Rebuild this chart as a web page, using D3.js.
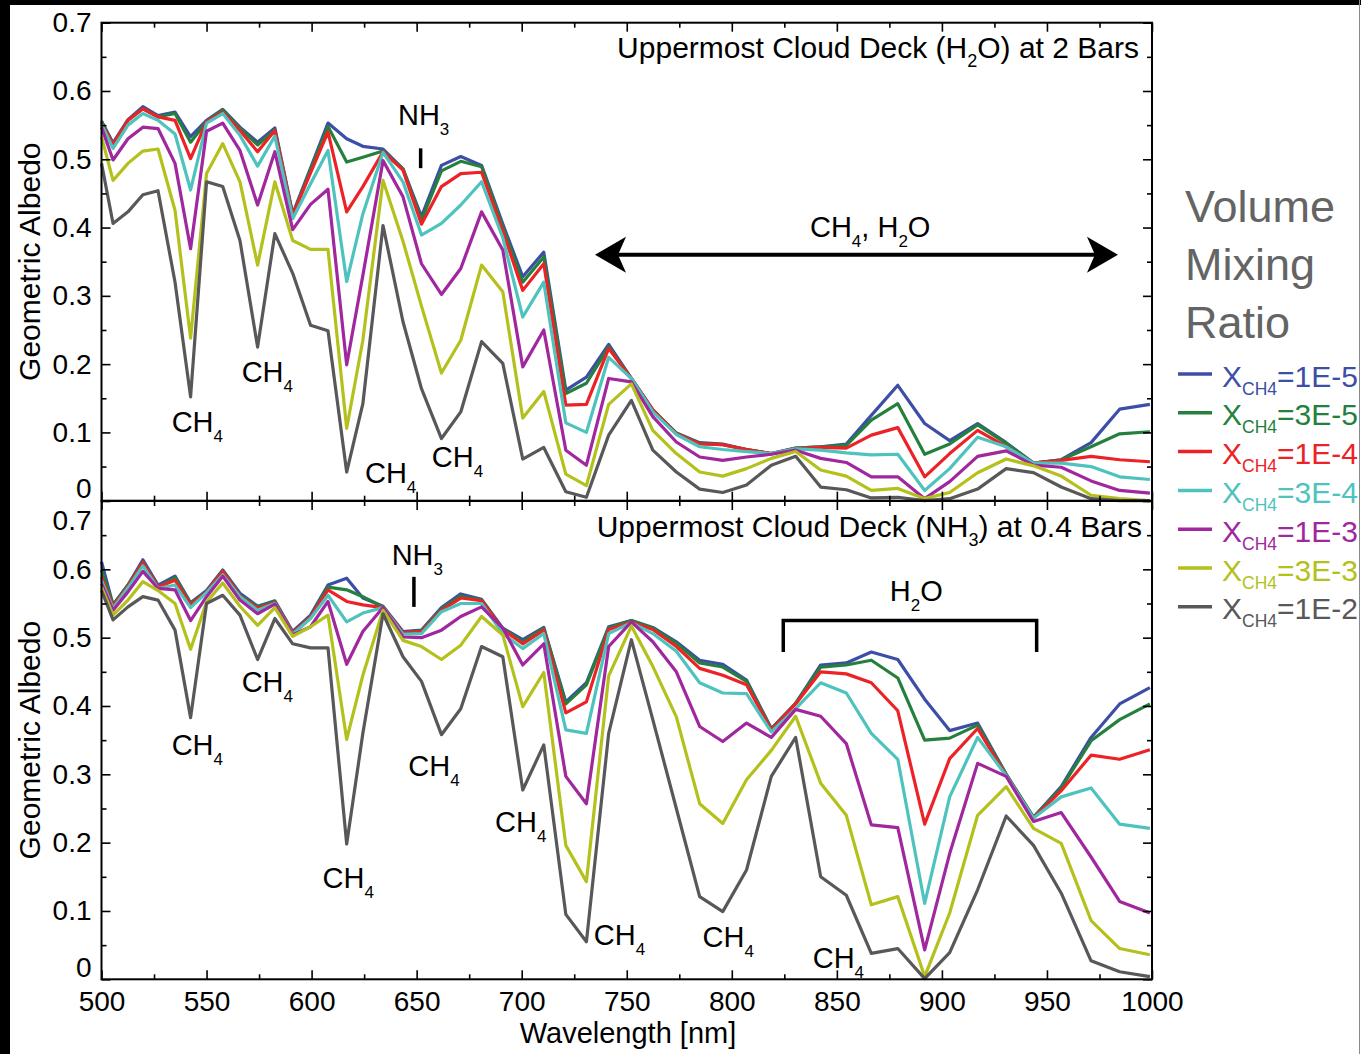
<!DOCTYPE html>
<html>
<head>
<meta charset="utf-8">
<title>Geometric Albedo vs Wavelength</title>
<style>
body { margin: 0; background: #fff; }
svg text { font-family: "Liberation Sans", Arial, Helvetica, sans-serif; }
.axis path.domain { display: none; }
.axis line { stroke: #000; stroke-width: 1.6px; }
.frame { fill: none; stroke: #000; stroke-width: 2px; }
.curve { fill: none; stroke-width: 3.2px; stroke-linejoin: round; }
</style>
</head>
<body>
<svg id="chart" width="1361" height="1054"></svg>
<script src="https://cdn.jsdelivr.net/npm/d3@7"></script>
<script>

// wavelength grid [nm]
var wavelength = [500, 505.5, 512.6, 519.7, 526.9, 535, 542.4, 550, 557.7, 565.9,
  574.3, 582.5, 591, 599.5, 607.8, 616.7, 624.4, 634, 643.5, 652.3,
  661.8, 671, 680.9, 691, 700.5, 710.5, 721, 730.8, 741.4, 752.2,
  762.4, 773.6, 784.7, 795.7, 807, 818.8, 830.4, 842.3, 854.5, 866.4,
  879, 891.8, 903.7, 917, 930.6, 943.6, 956.8, 971, 984.6, 999];

var ratioLabels = ["1E-5", "3E-5", "1E-4", "3E-4", "1E-3", "3E-3", "1E-2"];
var seriesColors = ["#3c4ea5", "#24803c", "#ec2227", "#4ec3be", "#a0279d", "#b4c11c", "#58585a"];

// upper panel: H2O cloud deck at 2 bars
var h2o_1e5 = [.556, .524, .558, .577, .564, .569, .533, .557, .573, .547, .525, .546, .420, .487, .553, .530, .519, .515, .486, .416,
  .491, .504, .491, .405, .328, .364, .162, .181, .229, .179, .133, .099, .085, .083, .075, .069, .077, .079, .083, .125,
  .169, .113, .088, .113, .085, .055, .060, .085, .134, .141];
var h2o_3e5 = [.555, .522, .557, .574, .562, .567, .525, .555, .572, .545, .521, .543, .418, .485, .548, .496, .503, .512, .486, .411,
  .483, .497, .489, .400, .320, .357, .157, .172, .225, .179, .133, .099, .084, .082, .075, .069, .077, .079, .081, .118,
  .142, .068, .083, .111, .084, .055, .060, .079, .098, .101];
var h2o_1e4 = [.552, .522, .557, .574, .562, .557, .501, .555, .569, .542, .511, .542, .418, .480, .540, .423, .460, .511, .484, .405,
  .460, .479, .481, .395, .308, .347, .140, .141, .223, .179, .133, .098, .083, .082, .075, .069, .076, .078, .077, .096,
  .107, .035, .069, .103, .079, .055, .059, .065, .060, .057];
var h2o_3e4 = [.551, .516, .550, .567, .557, .537, .455, .553, .567, .535, .490, .534, .413, .464, .513, .321, .420, .510, .467, .389,
  .406, .433, .467, .385, .269, .320, .114, .100, .210, .179, .130, .097, .079, .075, .072, .069, .076, .074, .070, .067,
  .068, .015, .047, .093, .079, .055, .055, .050, .035, .031];
var h2o_1e3 = [.547, .499, .530, .547, .545, .494, .369, .541, .553, .513, .433, .511, .397, .434, .456, .199, .330, .498, .445, .347,
  .302, .340, .423, .367, .196, .250, .074, .052, .179, .174, .123, .086, .064, .059, .064, .068, .074, .062, .056, .035,
  .035, .003, .028, .065, .073, .052, .049, .029, .015, .011];
var h2o_3e3 = [.533, .469, .494, .512, .515, .425, .238, .479, .523, .467, .345, .467, .381, .368, .368, .106, .235, .469, .380, .285,
  .187, .235, .345, .306, .121, .160, .039, .022, .141, .171, .103, .069, .042, .036, .047, .062, .072, .045, .036, .015,
  .018, .003, .012, .041, .061, .051, .036, .008, .003, .000];
var h2o_1e2 = [.494, .406, .423, .448, .454, .320, .152, .467, .460, .381, .225, .391, .333, .257, .249, .042, .142, .403, .262, .164,
  .091, .130, .233, .201, .061, .078, .013, .005, .096, .147, .074, .042, .017, .012, .023, .052, .065, .020, .016, .004,
  .005, .000, .003, .017, .047, .041, .020, .003, .000, .000];

// lower panel: NH3 cloud deck at 0.4 bars
var nh3_1e5 = [.611, .548, .577, .614, .577, .590, .551, .569, .599, .565, .546, .554, .509, .533, .577, .587, .558, .546, .509, .511,
  .544, .564, .556, .514, .497, .515, .406, .434, .516, .525, .515, .494, .467, .461, .438, .367, .404, .460, .463, .479,
  .468, .410, .364, .375, .300, .237, .282, .354, .403, .427];
var nh3_3e5 = [.599, .548, .577, .611, .574, .588, .550, .567, .598, .562, .545, .553, .507, .531, .574, .570, .560, .545, .507, .510,
  .542, .561, .555, .513, .494, .514, .403, .431, .514, .525, .514, .492, .463, .457, .436, .366, .404, .457, .460, .467,
  .441, .350, .353, .372, .300, .237, .280, .349, .380, .403];
var nh3_1e4 = [.589, .546, .575, .610, .574, .584, .548, .567, .597, .561, .543, .551, .507, .530, .570, .553, .548, .544, .507, .509,
  .540, .558, .554, .512, .491, .511, .390, .406, .512, .523, .512, .487, .455, .445, .431, .365, .403, .450, .447, .434,
  .393, .227, .323, .367, .298, .236, .276, .328, .322, .336];
var nh3_3e4 = [.584, .543, .573, .605, .572, .577, .544, .566, .592, .560, .540, .550, .505, .528, .562, .523, .536, .544, .505, .506,
  .538, .550, .550, .506, .484, .506, .365, .360, .506, .522, .506, .480, .434, .419, .418, .362, .396, .434, .419, .360,
  .322, .111, .267, .354, .298, .236, .267, .280, .227, .221];
var nh3_1e3 = [.579, .540, .567, .597, .572, .570, .525, .560, .590, .555, .535, .549, .504, .516, .553, .461, .509, .544, .501, .500,
  .511, .531, .545, .514, .460, .491, .297, .257, .487, .523, .494, .450, .370, .348, .375, .354, .395, .385, .345, .226,
  .222, .043, .184, .316, .297, .231, .244, .179, .114, .097];
var nh3_3e3 = [.574, .533, .555, .582, .569, .550, .483, .552, .580, .546, .518, .544, .502, .516, .533, .351, .445, .540, .496, .487,
  .468, .489, .531, .504, .399, .449, .196, .143, .444, .517, .458, .384, .257, .228, .292, .335, .385, .287, .240, .109,
  .121, .004, .097, .240, .282, .221, .199, .086, .045, .036];
var nh3_1e2 = [.569, .526, .545, .560, .555, .511, .383, .550, .562, .533, .468, .528, .491, .485, .485, .198, .360, .535, .472, .436,
  .358, .396, .487, .472, .277, .343, .095, .055, .360, .497, .380, .250, .121, .099, .160, .297, .354, .150, .123, .038,
  .045, .001, .039, .131, .239, .196, .126, .027, .011, .004];

// annotations, placed in data coordinates (wavelength, albedo)
var h2oNotes = [
  {label: "CH_4", wl: 533.4, v: 0.101},
  {label: "CH_4", wl: 566.7, v: 0.174},
  {label: "CH_4", wl: 625.4, v: 0.026},
  {label: "CH_4", wl: 657.2, v: 0.050},
  {label: "NH_3", wl: 641.1, v: 0.550},
  {label: "CH_4, H_2O", wl: 837.2, v: 0.386}
];
var nh3Notes = [
  {label: "CH_4", wl: 533.4, v: 0.328},
  {label: "CH_4", wl: 566.7, v: 0.421},
  {label: "CH_4", wl: 605.2, v: 0.133},
  {label: "CH_4", wl: 646.0, v: 0.298},
  {label: "CH_4", wl: 687.3, v: 0.216},
  {label: "CH_4", wl: 734.3, v: 0.050},
  {label: "CH_4", wl: 786.1, v: 0.048},
  {label: "CH_4", wl: 838.5, v: 0.016},
  {label: "NH_3", wl: 638.1, v: 0.606},
  {label: "H_2O", wl: 875.2, v: 0.553}
];

var FONT_TICK = 28, FONT_NOTE = 29, FONT_SUB = 17;

var svg = d3.select("#chart");
var x = d3.scaleLinear().domain([500, 1000]).range([101.5, 1152]);

var panels = [
  {
    y: d3.scaleLinear().domain([0, 0.7]).range([500.7, 22.7]),
    series: [h2o_1e5, h2o_3e5, h2o_1e4, h2o_3e4, h2o_1e3, h2o_3e3, h2o_1e2],
    title: "Uppermost Cloud Deck (H_2O) at 2 Bars", titleEnd: 993.8, titleV: 0.649,
    notes: h2oNotes,
    nh3Tick: {wl: 651.9, v0: 0.516, v1: 0.487},
    labelShift: {0: -12},
    xLabels: false
  },
  {
    y: d3.scaleLinear().domain([0, 0.7]).range([979.3, 501]),
    series: [nh3_1e5, nh3_3e5, nh3_1e4, nh3_3e4, nh3_1e3, nh3_3e3, nh3_1e2],
    title: "Uppermost Cloud Deck (NH_3) at 0.4 Bars", titleEnd: 995.2, titleV: 0.648,
    notes: nh3Notes,
    nh3Tick: {wl: 648.7, v0: 0.589, v1: 0.545},
    labelShift: {0: -12, 0.7: 20},
    xLabels: true
  }
];

// text with one-char (_x) or grouped (_{xyz}) subscripts
function richText(parent, str, o) {
  var t = parent.append("text")
    .attr("x", o.x).attr("y", o.y)
    .attr("font-size", o.size)
    .attr("fill", o.color || "#000")
    .attr("text-anchor", o.anchor || "start");
  var re = /_\{([^}]*)\}|_(.)/g, last = 0, m, down = false;
  function main(s) {
    t.append("tspan").attr("font-size", o.size).attr("dy", down ? -o.shift : 0).text(s);
    down = false;
  }
  function sub(s) {
    t.append("tspan").attr("font-size", o.sub).attr("dy", o.shift).text(s);
    down = true;
  }
  while ((m = re.exec(str)) !== null) {
    if (m.index > last) main(str.slice(last, m.index));
    sub(m[1] || m[2]);
    last = re.lastIndex;
  }
  if (last < str.length) main(str.slice(last));
  return t;
}

var yMajor = d3.range(0, 0.71, 0.1), yMinor = d3.range(0.05, 0.7, 0.1);
var xMajor = d3.range(500, 1001, 50), xMinor = d3.range(525, 1000, 50);
var fmt = function (d) { return d < 1e-6 ? "0" : d3.format(".1f")(d); };

panels.forEach(function (p) {
  var y = p.y;
  var g = svg.append("g");
  var x0 = x.range()[0], x1 = x.range()[1], yT = y.range()[1], yB = y.range()[0];

  // curves
  var line = d3.line()
    .x(function (d, i) { return x(wavelength[i]); })
    .y(function (d) { return y(d); });
  g.selectAll(".curve").data(p.series).enter().append("path")
    .attr("class", "curve")
    .attr("stroke", function (d, i) { return seriesColors[i]; })
    .attr("d", line);

  // left axis with labels
  var left = g.append("g").attr("class", "axis").attr("transform", "translate(" + x0 + ",0)")
    .call(d3.axisLeft(y).tickValues(yMajor).tickSize(-9).tickPadding(10).tickFormat(fmt));
  left.attr("font-size", FONT_TICK);
  left.selectAll("text").attr("y", function (d) {
    var k = Math.round(d * 10) / 10;
    return p.labelShift[k] || 0;
  });
  g.append("g").attr("class", "axis").attr("transform", "translate(" + x0 + ",0)")
    .call(d3.axisLeft(y).tickValues(yMinor).tickSize(-5).tickFormat(""));

  // right axis
  g.append("g").attr("class", "axis").attr("transform", "translate(" + x1 + ",0)")
    .call(d3.axisRight(y).tickValues(yMajor).tickSize(-9).tickFormat(""));
  g.append("g").attr("class", "axis").attr("transform", "translate(" + x1 + ",0)")
    .call(d3.axisRight(y).tickValues(yMinor).tickSize(-5).tickFormat(""));

  // top axis
  g.append("g").attr("class", "axis").attr("transform", "translate(0," + yT + ")")
    .call(d3.axisTop(x).tickValues(xMajor).tickSize(-9).tickFormat(""));
  g.append("g").attr("class", "axis").attr("transform", "translate(0," + yT + ")")
    .call(d3.axisTop(x).tickValues(xMinor).tickSize(-5).tickFormat(""));

  // bottom axis
  var bottom = g.append("g").attr("class", "axis").attr("transform", "translate(0," + yB + ")")
    .call(d3.axisBottom(x).tickValues(xMajor).tickSize(-9).tickPadding(12)
      .tickFormat(p.xLabels ? d3.format("d") : ""));
  bottom.attr("font-size", FONT_TICK);
  g.append("g").attr("class", "axis").attr("transform", "translate(0," + yB + ")")
    .call(d3.axisBottom(x).tickValues(xMinor).tickSize(-5).tickFormat(""));

  g.append("rect").attr("class", "frame")
    .attr("x", x0).attr("y", yT).attr("width", x1 - x0).attr("height", yB - yT);

  // y axis title
  g.append("text")
    .attr("transform", "translate(40," + ((yT + yB) / 2) + ") rotate(-90)")
    .attr("text-anchor", "middle").attr("font-size", 30)
    .text("Geometric Albedo");

  // panel title
  richText(g, p.title, {x: x(p.titleEnd), y: y(p.titleV), size: 30, sub: 18, shift: 9, anchor: "end"});

  // absorber labels
  p.notes.forEach(function (n) {
    richText(g, n.label, {x: x(n.wl), y: y(n.v), size: FONT_NOTE, sub: FONT_SUB, shift: 10});
  });

  // NH3 marker
  g.append("line")
    .attr("x1", x(p.nh3Tick.wl)).attr("x2", x(p.nh3Tick.wl))
    .attr("y1", y(p.nh3Tick.v0)).attr("y2", y(p.nh3Tick.v1))
    .attr("stroke", "#000").attr("stroke-width", 3.5);
});

// double arrow over the CH4/H2O region in the top panel
(function () {
  var y = panels[0].y, ay = y(0.360), xa = x(734.9), xb = x(983.8);
  var g = svg.append("g");
  g.append("line").attr("x1", xa + 20).attr("x2", xb - 20).attr("y1", ay).attr("y2", ay)
    .attr("stroke", "#000").attr("stroke-width", 4);
  g.append("path").attr("fill", "#000")
    .attr("d", "M" + xa + "," + ay + "L" + (xa + 31) + "," + (ay - 18) + "L" + (xa + 23) + "," + ay +
      "L" + (xa + 31) + "," + (ay + 18) + "Z");
  g.append("path").attr("fill", "#000")
    .attr("d", "M" + xb + "," + ay + "L" + (xb - 31) + "," + (ay - 18) + "L" + (xb - 23) + "," + ay +
      "L" + (xb - 31) + "," + (ay + 18) + "Z");
})();

// H2O bracket in the bottom panel
(function () {
  var y = panels[1].y;
  svg.append("path")
    .attr("d", "M" + x(824.5) + "," + y(0.479) + "V" + y(0.525) + "H" + x(945.1) + "V" + y(0.479))
    .attr("fill", "none").attr("stroke", "#000").attr("stroke-width", 3.5);
})();

// x axis title
svg.append("text")
  .attr("x", 628).attr("y", 1043)
  .attr("text-anchor", "middle").attr("font-size", 29)
  .text("Wavelength [nm]");

// legend
var legend = svg.append("g").attr("transform", "translate(1178,0)");
["Volume", "Mixing", "Ratio"].forEach(function (s, i) {
  legend.append("text").attr("x", 7).attr("y", 222 + i * 58)
    .attr("font-size", 45).attr("fill", "#646464").text(s);
});
ratioLabels.forEach(function (lab, i) {
  var ly = 374 + i * 38.8;
  legend.append("line").attr("x1", 0).attr("x2", 34).attr("y1", ly).attr("y2", ly)
    .attr("stroke", seriesColors[i]).attr("stroke-width", 3.5);
  richText(legend, "X_{CH4}=" + lab, {x: 44, y: ly + 12.5, size: 30, sub: 17.5, shift: 8, color: seriesColors[i]});
});

// page border bits seen in the figure
svg.append("rect").attr("x", 0).attr("y", 0).attr("width", 1361).attr("height", 5).attr("fill", "#000");
svg.append("rect").attr("x", 0).attr("y", 0).attr("width", 10).attr("height", 1054).attr("fill", "#000");
svg.append("line").attr("x1", 1359.5).attr("x2", 1359.5).attr("y1", 0).attr("y2", 1054)
  .attr("stroke", "#8a8a8a").attr("stroke-width", 1);

</script>
</body>
</html>
